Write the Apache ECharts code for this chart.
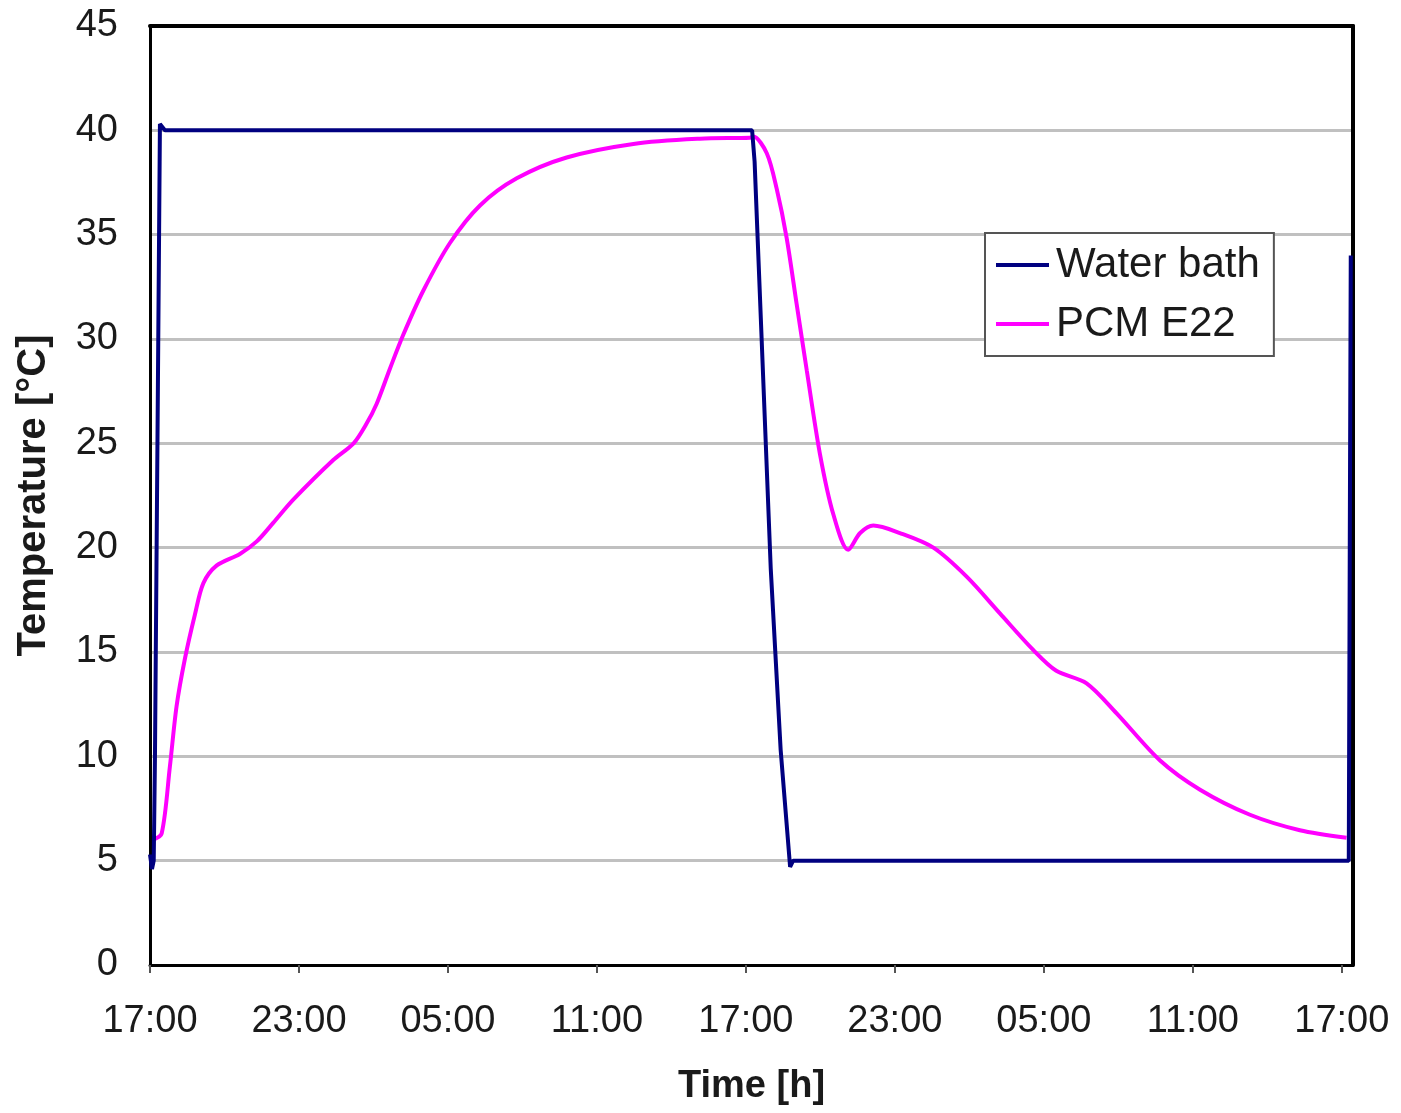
<!DOCTYPE html>
<html>
<head>
<meta charset="utf-8">
<title>Water bath / PCM E22</title>
<script src="https://cdn.jsdelivr.net/npm/echarts@6/dist/echarts.min.js"></script>
<style>
    html, body { margin: 0; padding: 0; background: #fff; }
    #chart { width: 1401px; height: 1113px; }
</style>
</head>
<body>
<div id="chart"></div>
<script>
// time in hours since 17:00 of day 1
var waterTime = [0, 0.08, 0.15, 0.2, 0.3, 0.4, 0.6, 6, 12, 18, 24.25, 24.35, 25.0, 25.4, 25.78, 25.9, 30, 36, 42, 48.28, 48.32, 48.36];
var waterTemp = [5.3, 4.6, 5.0, 10, 25, 40.3, 40.0, 40.0, 40.0, 40.0, 40.0, 38.5, 19.0, 10.3, 4.7, 5.0, 5.0, 5.0, 5.0, 5.0, 20, 34];

var pcmTime = [0.12, 0.47, 0.8, 1.07, 1.41, 1.81, 2.15, 2.69, 3.62, 4.3, 4.97, 5.77, 7.38, 8.2, 8.7, 9.13, 9.67, 10.2, 11.0, 12.08, 13.29, 14.77, 16.78, 19.47, 22.15, 24.16, 24.3, 24.84, 25.24, 25.64, 26.04, 26.45, 26.98, 27.52, 28.12, 28.6, 29.13, 30.2, 31.55, 32.9, 34.23, 35.57, 36.5, 37.72, 38.93, 40.68, 42.29, 44.3, 46.31, 48.19];
var pcmTemp = [6.0, 6.3, 9.5, 12.4, 14.7, 16.8, 18.3, 19.15, 19.7, 20.3, 21.2, 22.3, 24.2, 25.0, 25.9, 26.9, 28.6, 30.2, 32.3, 34.6, 36.4, 37.7, 38.7, 39.35, 39.6, 39.65, 39.7, 38.9, 37.2, 34.85, 31.7, 28.5, 24.5, 21.6, 19.9, 20.7, 21.06, 20.7, 20.0, 18.6, 16.85, 15.1, 14.1, 13.5, 12.06, 9.8, 8.4, 7.2, 6.46, 6.1];

var xTicks = [0, 6, 12, 18, 24, 30, 36, 42, 48];

function pairs(xs, ys) {
    return xs.map(function (x, i) { return [x, ys[i]]; });
}

function clockLabel(v) {
    var h = (17 + Math.round(v)) % 24;
    return (h < 10 ? '0' + h : '' + h) + ':00';
}

var myChart = echarts.init(document.getElementById('chart'));

var font = '"Liberation Sans", Arial, sans-serif';

var option = {
    animation: false,
    backgroundColor: '#fff',
    textStyle: { fontFamily: font },
    grid: {
        left: 150,
        top: 26,
        right: 48,
        bottom: 148
    },
    legend: {
        left: 985,
        top: 233,
        orient: 'vertical',
        backgroundColor: '#fff',
        borderColor: '#555',
        borderWidth: 2,
        borderRadius: 0,
        padding: [11, 14, 11, 11],
        itemGap: 17,
        itemWidth: 53,
        itemHeight: 4,
        icon: 'rect',
        selectedMode: false,
        textStyle: {
            fontFamily: font,
            fontSize: 42,
            color: '#1a1a1a',
            padding: [0, 0, 0, 2]
        },
        data: ['Water bath', 'PCM E22']
    },
    xAxis: [{
        type: 'value',
        min: 0,
        max: 48.45,
        name: 'Time [h]',
        nameLocation: 'middle',
        nameGap: 103,
        nameTextStyle: {
            fontFamily: font,
            fontSize: 38,
            fontWeight: 'bold',
            color: '#1a1a1a'
        },
        axisLine: { show: true, lineStyle: { color: '#000', width: 3 } },
        axisTick: {
            show: true,
            customValues: xTicks,
            length: 8,
            lineStyle: { color: '#555', width: 2 }
        },
        axisLabel: {
            customValues: xTicks,
            margin: 38,
            fontFamily: font,
            fontSize: 38,
            color: '#1a1a1a',
            formatter: clockLabel
        },
        splitLine: { show: false }
    }, {
        // top frame edge
        type: 'value',
        position: 'top',
        min: 0,
        max: 48.45,
        axisLine: { show: true, onZero: false, lineStyle: { color: '#000', width: 4 } },
        axisTick: { show: false },
        axisLabel: { show: false },
        splitLine: { show: false }
    }],
    yAxis: [{
        type: 'value',
        min: 0,
        max: 45,
        interval: 5,
        name: 'Temperature [°C]',
        nameLocation: 'middle',
        nameGap: 96,
        nameTextStyle: {
            fontFamily: font,
            fontSize: 40,
            fontWeight: 'bold',
            color: '#1a1a1a'
        },
        axisLine: { show: true, lineStyle: { color: '#000', width: 3 } },
        axisTick: { show: false },
        axisLabel: {
            margin: 32,
            fontFamily: font,
            fontSize: 38,
            color: '#1a1a1a'
        },
        splitLine: { show: true, lineStyle: { color: '#c0c0c0', width: 3 } }
    }, {
        // right frame edge
        type: 'value',
        position: 'right',
        min: 0,
        max: 45,
        axisLine: { show: true, onZero: false, lineStyle: { color: '#000', width: 4 } },
        axisTick: { show: false },
        axisLabel: { show: false },
        splitLine: { show: false }
    }],
    series: [
        {
            name: 'Water bath',
            type: 'line',
            data: pairs(waterTime, waterTemp),
            showSymbol: false,
            lineStyle: { color: '#000080', width: 4 },
            itemStyle: { color: '#000080' },
            z: 3
        },
        {
            name: 'PCM E22',
            type: 'line',
            data: pairs(pcmTime, pcmTemp),
            smooth: 0.3,
            showSymbol: false,
            lineStyle: { color: '#ff00ff', width: 4 },
            itemStyle: { color: '#ff00ff' },
            z: 2
        }
    ]
};

myChart.setOption(option);
window.addEventListener('resize', function () {
    myChart.resize();
});
</script>
</body>
</html>
